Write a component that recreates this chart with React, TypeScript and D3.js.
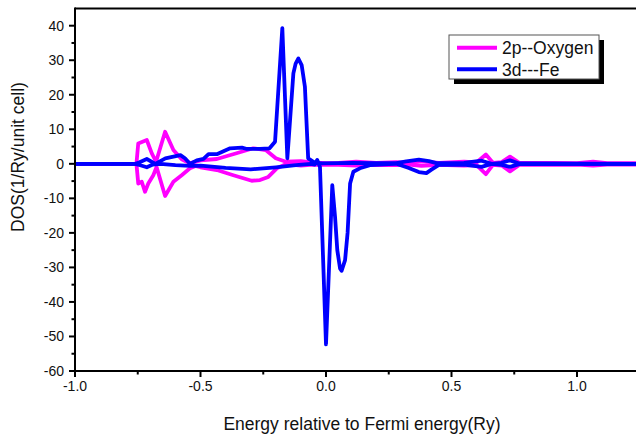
import React from "react";
import * as d3 from "d3";

// Spin-polarized DOS: energy (Ry) vs DOS (1/Ry/unit cell)
const oxygenUp: [number, number][] = [
  [-1.0, 0], [-0.76, 0], [-0.755, 0.2], [-0.748, 5.9], [-0.714, 6.9], [-0.694, 3], [-0.677, 0.6],
  [-0.641, 9.3], [-0.608, 4], [-0.575, 1.3], [-0.555, 0.6], [-0.54, 0.2], [-0.5, 1], [-0.435, 1.4],
  [-0.36, 3], [-0.29, 4.5], [-0.24, 4], [-0.2, 1.6], [-0.16, 0.6], [-0.1, 0.8], [-0.06, 0.4],
  [0, 0.2], [0.05, 0.3], [0.12, 0.6], [0.2, 0.3], [0.28, 0.5], [0.33, 0.3], [0.38, 0.7], [0.45, 0.3],
  [0.55, 0.6], [0.6, 0.4], [0.637, 2.7], [0.665, 0.3], [0.7, 0.5], [0.733, 2.1], [0.77, 0.3],
  [0.9, 0.3], [1.0, 0.2], [1.064, 0.6], [1.12, 0.2], [1.25, 0.2],
];
const oxygenDown: [number, number][] = [
  [-1.0, 0], [-0.76, 0], [-0.755, -0.2], [-0.748, -5.7], [-0.734, -5.2], [-0.721, -8.1], [-0.708, -5.7],
  [-0.688, -3.3], [-0.675, -0.9], [-0.641, -9.3], [-0.608, -5.2], [-0.575, -3.3], [-0.542, -1.3],
  [-0.52, -0.6], [-0.5, -1], [-0.435, -1.8], [-0.369, -3.3], [-0.296, -4.9], [-0.263, -4.7],
  [-0.23, -3.8], [-0.196, -1.3], [-0.16, -0.1], [-0.1, -0.5], [-0.05, -0.2], [0.05, -0.3],
  [0.12, -0.5], [0.2, -0.3], [0.28, -0.4], [0.33, -0.2], [0.38, -0.6], [0.45, -0.3], [0.55, -0.5],
  [0.6, -0.4], [0.637, -3.0], [0.665, -0.3], [0.7, -0.5], [0.733, -2.2], [0.77, -0.3], [0.9, -0.3],
  [1.0, -0.2], [1.064, -0.5], [1.12, -0.2], [1.25, -0.2],
];
const ironUp: [number, number][] = [
  [-1.0, 0], [-0.76, 0], [-0.745, 0.4], [-0.714, 1.4], [-0.68, 0], [-0.64, 1.6], [-0.58, 2.5],
  [-0.562, 1.6], [-0.542, 0], [-0.515, 1], [-0.488, 1.4], [-0.468, 2.8], [-0.435, 2.8],
  [-0.382, 4.5], [-0.335, 4.7], [-0.315, 4.3], [-0.263, 4.3], [-0.225, 4.5], [-0.203, 6.4],
  [-0.174, 39.3], [-0.154, 1.6], [-0.13, 26.2], [-0.121, 29], [-0.11, 30.5], [-0.097, 28.6],
  [-0.084, 22.3], [-0.071, 1.6], [-0.044, 0.3], [-0.015, 0.1], [0.05, 0.2], [0.1, 0.3], [0.2, 0.2],
  [0.28, 0.2], [0.32, 0.7], [0.37, 1.2], [0.41, 0.8], [0.44, 0.2], [0.55, 0.3], [0.62, 0.9],
  [0.66, 0], [0.7, 0.3], [0.733, 1], [0.77, 0.1], [1.25, 0],
];
const ironDown: [number, number][] = [
  [-1.0, 0], [-0.76, 0], [-0.74, -0.4], [-0.714, -1], [-0.69, -0.2], [-0.66, 0], [-0.6, -0.4],
  [-0.542, -0.6], [-0.5, -0.5], [-0.4, -1.2], [-0.3, -1.6], [-0.2, -1.0], [-0.12, -0.4],
  [-0.06, 0], [-0.045, -0.2], [-0.035, 1.1], [-0.024, -0.9], [0.0, -52.3], [0.025, -6.2],
  [0.036, -15.3], [0.045, -25], [0.056, -30.3], [0.062, -31], [0.076, -27.9], [0.086, -20],
  [0.096, -5.7], [0.109, -2.3], [0.135, -1.3], [0.175, -0.4], [0.25, -0.1], [0.28, 0],
  [0.33, -1.2], [0.37, -2.4], [0.4, -2.7], [0.42, -1.7], [0.45, -0.3], [0.55, -0.2], [0.62, -0.9],
  [0.66, 0], [0.7, -0.3], [0.733, -0.9], [0.77, -0.1], [1.25, 0],
];

const seriesNames = ["2p--Oxygen", "3d---Fe"];
const seriesColors = ["#ff00ff", "#0000ff"];
const xTicks = [-1.0, -0.5, 0.0, 0.5, 1.0];
const xMinorTicks = [-0.75, -0.25, 0.25, 0.75];
const yTicks = [-60, -50, -40, -30, -20, -10, 0, 10, 20, 30, 40];
const yMinorTicks = [-55, -45, -35, -25, -15, -5, 5, 15, 25, 35];
const xLabel = "Energy relative to Fermi energy(Ry)";
const yLabel = "DOS(1/Ry/unit cell)";

const W = 636;
const H = 436;
const FONT = "'Liberation Sans', Arial, sans-serif";

export default function App() {
  const x = d3.scaleLinear().domain([-1, 1.25]).range([75, 75 + 2.25 * 251]);
  const y = d3.scaleLinear().domain([-60, 45]).range([371, 371 - 105 * 3.453]);
  const line = d3
    .line<[number, number]>()
    .x((d) => x(d[0]))
    .y((d) => y(d[1]));
  const x0 = x(-1);
  const yBottom = y(-60);
  const yTop = y(45);

  const curves = [
    { data: oxygenUp, color: seriesColors[0] },
    { data: oxygenDown, color: seriesColors[0] },
    { data: ironUp, color: seriesColors[1] },
    { data: ironDown, color: seriesColors[1] },
  ];

  const lgX = 449, lgY = 35, lgW = 150, lgH = 44;

  return (
    <svg
      width={W}
      height={H}
      style={{ position: "fixed", left: 0, top: 0, display: "block", background: "#fff" }}
      fontFamily={FONT}
    >
      <rect x={0} y={0} width={W} height={H} fill="#fff" />
      <defs>
        <clipPath id="plot">
          <rect x={x0} y={yTop} width={W - x0} height={yBottom - yTop} />
        </clipPath>
      </defs>
      <g clipPath="url(#plot)">
        {curves.map((c, i) => (
          <path
            key={i}
            d={line(c.data) || ""}
            fill="none"
            stroke={c.color}
            strokeWidth={3.8}
            strokeLinejoin="round"
            strokeLinecap="round"
          />
        ))}
      </g>
      {/* frame */}
      <line x1={x0} x2={W} y1={yTop} y2={yTop} stroke="#000" strokeWidth={2} />
      <line x1={x0} x2={W} y1={yBottom} y2={yBottom} stroke="#000" strokeWidth={2} />
      <line x1={x0} x2={x0} y1={yTop - 1} y2={yBottom + 1} stroke="#000" strokeWidth={2} />
      {/* x ticks */}
      {xTicks.map((t) => (
        <g key={"xt" + t}>
          <line x1={x(t)} x2={x(t)} y1={yBottom} y2={yBottom + 6} stroke="#000" strokeWidth={2} />
          <text x={x(t)} y={yBottom + 20} textAnchor="middle" fontSize={14} fill="#111">
            {d3.format(".1f")(t).replace("−", "-")}
          </text>
        </g>
      ))}
      {xMinorTicks.map((t) => (
        <line key={"xm" + t} x1={x(t)} x2={x(t)} y1={yBottom} y2={yBottom + 3.5} stroke="#000" strokeWidth={2} />
      ))}
      {/* y ticks */}
      {yTicks.map((t) => (
        <g key={"yt" + t}>
          <line x1={x0 - 6} x2={x0} y1={y(t)} y2={y(t)} stroke="#000" strokeWidth={2} />
          <text x={x0 - 11} y={y(t) + 5} textAnchor="end" fontSize={14} fill="#111">
            {String(t)}
          </text>
        </g>
      ))}
      {yMinorTicks.map((t) => (
        <line key={"ym" + t} x1={x0 - 3.5} x2={x0} y1={y(t)} y2={y(t)} stroke="#000" strokeWidth={2} />
      ))}
      {/* axis titles */}
      <text x={362} y={430} textAnchor="middle" fontSize={17.5} fill="#111">
        {xLabel}
      </text>
      <text
        transform={`translate(24,157) rotate(-90)`}
        textAnchor="middle"
        fontSize={17.5}
        fill="#111"
      >
        {yLabel}
      </text>
      {/* legend */}
      <rect x={lgX + 5} y={lgY + 5} width={lgW} height={lgH} fill="#000" />
      <rect x={lgX} y={lgY} width={lgW} height={lgH} fill="#fff" stroke="#555" strokeWidth={1} />
      {seriesNames.map((n, i) => (
        <g key={n}>
          <line
            x1={lgX + 8}
            x2={lgX + 48}
            y1={lgY + 12.7 + i * 21.6}
            y2={lgY + 12.7 + i * 21.6}
            stroke={seriesColors[i]}
            strokeWidth={4}
          />
          <text x={lgX + 53} y={lgY + 19 + i * 21.6} fontSize={17.5} fill="#111">
            {n}
          </text>
        </g>
      ))}
    </svg>
  );
}
